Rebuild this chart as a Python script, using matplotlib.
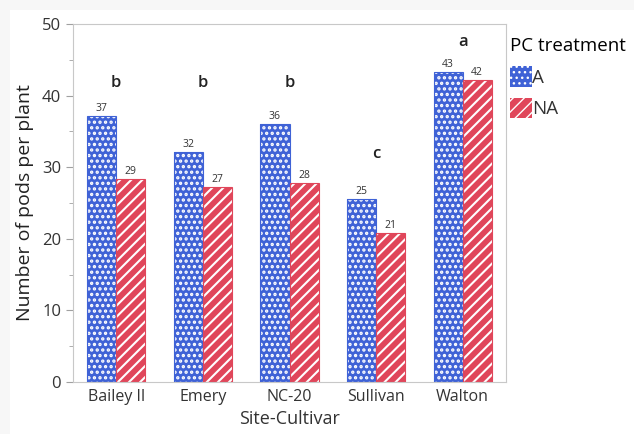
import numpy as np
import matplotlib
matplotlib.use("Agg")
import matplotlib.pyplot as plt
from matplotlib.patches import Patch
from matplotlib.ticker import MultipleLocator

# Data
cultivars = ["Bailey II", "Emery", "NC-20", "Sullivan", "Walton"]
pods_a = [37.1, 32.1, 36.0, 25.5, 43.3]
pods_na = [28.4, 27.2, 27.8, 20.8, 42.2]
label_a = ["37", "32", "36", "25", "43"]
label_na = ["29", "27", "28", "21", "42"]
letters = ["b", "b", "b", "c", "a"]
letter_y = [41.8, 41.8, 41.8, 31.8, 47.5]

plt.rcParams['font.family'] = ['Open Sans', 'DejaVu Sans']

blue = '#3f62d6'
red = '#e0465a'
gray = '#a0a0a0'
text_col = '#333333'
dot_lw = 1.6
stripe_lw = 1.5

fig = plt.figure(figsize=(6.34, 4.34), dpi=100, facecolor='#f7f7f7')
# white panel behind the chart
fig.patches.append(plt.Rectangle((10 / 634, 0), 1, 1 - 10 / 434, transform=fig.transFigure,
                                 facecolor='white', edgecolor='none', zorder=-1))
ax = fig.add_axes([73 / 634, 52 / 434, 433 / 634, 358 / 434])

x = np.arange(len(cultivars))
w = 0.335

# A bars: blue with white dots
with plt.rc_context({'hatch.linewidth': dot_lw}):
    ax.bar(x - w / 2, pods_a, w, color=blue, hatch='...', edgecolor='white', linewidth=0, zorder=2)
    h_a = Patch(facecolor=blue, hatch='...', edgecolor='white', linewidth=0, label='A')
ax.bar(x - w / 2, pods_a, w, fill=False, edgecolor=blue, linewidth=0.8, zorder=3)
# NA bars: red with white stripes
with plt.rc_context({'hatch.linewidth': stripe_lw}):
    ax.bar(x + w / 2, pods_na, w, color=red, hatch='///', edgecolor='white', linewidth=0, zorder=2)
    h_na = Patch(facecolor=red, hatch='///', edgecolor='white', linewidth=0, label='NA')
ax.bar(x + w / 2, pods_na, w, fill=False, edgecolor=red, linewidth=0.8, zorder=3)

for i in range(len(cultivars)):
    ax.text(x[i] - w / 2, pods_a[i] + 0.3, label_a[i], ha='center', va='bottom', fontsize=7.5, color=text_col)
    ax.text(x[i] + w / 2, pods_na[i] + 0.3, label_na[i], ha='center', va='bottom', fontsize=7.5, color=text_col)
    ax.text(x[i], letter_y[i], letters[i], ha='center', va='center', fontsize=12,
            fontweight='semibold', color='#222222')

ax.set_xlim(-0.5, 4.5)
ax.set_ylim(0, 50)
ax.yaxis.set_major_locator(MultipleLocator(10))
ax.yaxis.set_minor_locator(MultipleLocator(5))
ax.set_xticks(x)
ax.set_xticklabels(cultivars)
ax.tick_params(axis='x', length=0, labelsize=11.5, labelcolor=text_col, pad=5)
ax.tick_params(axis='y', which='major', length=5, color=gray, labelsize=12, labelcolor=text_col)
ax.tick_params(axis='y', which='minor', length=3, color=gray)
for s in ax.spines.values():
    s.set_color('#c8c8c8')
    s.set_linewidth(0.8)

ax.set_xlabel("Site-Cultivar", fontsize=13, color=text_col, labelpad=4)
ax.set_ylabel("Number of pods per plant", fontsize=14, color='#222222', labelpad=6)

fig.legend(handles=[h_a, h_na], title="PC treatment", loc='upper left',
           bbox_to_anchor=(510 / 634, 1 - 37 / 434), borderpad=0, borderaxespad=0,
           frameon=False, fontsize=13.5, title_fontsize=13.5, handlelength=1.15, handleheight=1.3,
           handletextpad=0.05, labelspacing=0.6, alignment='left', labelcolor=text_col)

fig.savefig("out.png", dpi=100, facecolor=fig.get_facecolor())
